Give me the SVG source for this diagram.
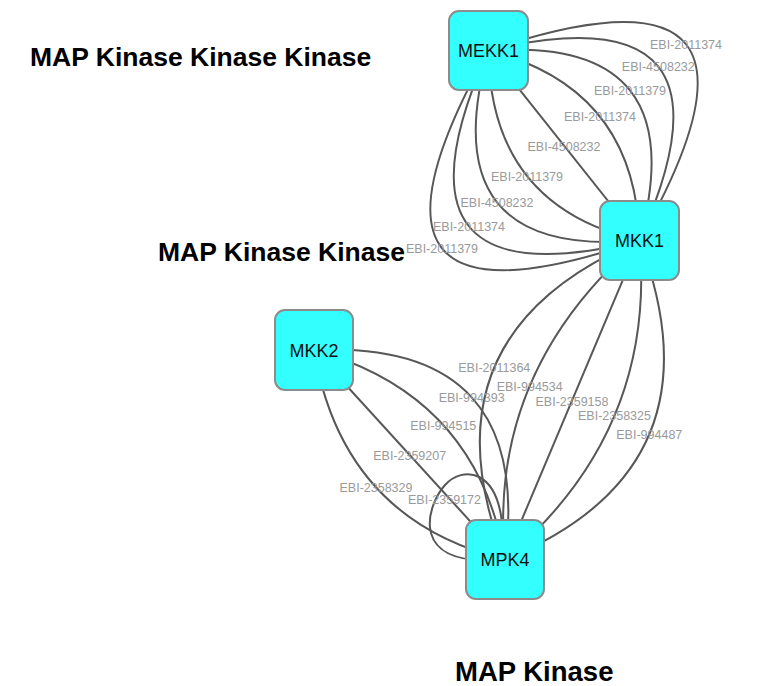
<svg xmlns="http://www.w3.org/2000/svg" width="771" height="686" viewBox="0 0 771 686">
<style>
.edge{fill:none;stroke:#575757;stroke-width:2}
.elabel{font-family:"Liberation Sans",Arial,sans-serif;font-size:12.5px;fill:#9a9a9a;text-anchor:middle}
.node rect{fill:#33ffff;stroke:#8c8c8c;stroke-width:2}
.node text{font-family:"Liberation Sans",Arial,sans-serif;font-size:18px;fill:#111;text-anchor:middle}
.title{font-family:"Liberation Sans",Arial,sans-serif;font-size:26.5px;font-weight:bold;fill:#000}
</style>
<rect width="771" height="686" fill="#fff"/>
<g id="titles">
<text class="title" x="30" y="66">MAP Kinase Kinase Kinase</text>
<text class="title" x="158" y="261">MAP Kinase Kinase</text>
<text class="title" x="455" y="681" style="font-size:27.5px">MAP Kinase</text>
</g>
<g id="connectors">
<path class="edge" d="M488.5,50.5 Q808,-57 639.5,240.5"/>
<path class="edge" d="M488.5,50.5 Q752.6,-12.1 639.5,240.5"/>
<path class="edge" d="M488.5,50.5 Q696,35.1 639.5,240.5"/>
<path class="edge" d="M488.5,50.5 Q636,87.9 639.5,240.5"/>
<path class="edge" d="M488.5,50.5 L639.5,240.5"/>
<path class="edge" d="M488.5,50.5 Q490,206.5 639.5,240.5"/>
<path class="edge" d="M488.5,50.5 Q430,259.1 639.5,240.5"/>
<path class="edge" d="M488.5,50.5 Q373.4,306.5 639.5,240.5"/>
<path class="edge" d="M488.5,50.5 Q320,351.1 639.5,240.5"/>
<path class="edge" d="M639.5,240.5 Q416.35,334.6 505,559.5"/>
<path class="edge" d="M639.5,240.5 Q487.15,372 505,559.5"/>
<path class="edge" d="M639.5,240.5 L505,559.5"/>
<path class="edge" d="M639.5,240.5 Q656.75,431.4 505,559.5"/>
<path class="edge" d="M639.5,240.5 Q726.35,468.6 505,559.5"/>
<path class="edge" d="M314,350 Q533.9,339.85 505,559.5"/>
<path class="edge" d="M314,350 Q477.1,395.25 505,559.5"/>
<path class="edge" d="M314,350 L505,559.5"/>
<path class="edge" d="M314,350 Q342.5,519.85 505,559.5"/>
<path class="edge" d="M503,535 C500,466 462,466 445,485 C428,504 412,555 475,560"/>
</g>
<g id="edge-labels">
<text class="elabel" x="686" y="48.5">EBI-2011374</text>
<text class="elabel" x="658.3" y="71">EBI-4508232</text>
<text class="elabel" x="630" y="94.5">EBI-2011379</text>
<text class="elabel" x="600" y="121">EBI-2011374</text>
<text class="elabel" x="564" y="150.5">EBI-4508232</text>
<text class="elabel" x="527" y="180.5">EBI-2011379</text>
<text class="elabel" x="497" y="206.5">EBI-4508232</text>
<text class="elabel" x="469" y="230.5">EBI-2011374</text>
<text class="elabel" x="442" y="252.5">EBI-2011379</text>
<text class="elabel" x="494.3" y="371.5">EBI-2011364</text>
<text class="elabel" x="529.7" y="390.5">EBI-994534</text>
<text class="elabel" x="572" y="405.5">EBI-2359158</text>
<text class="elabel" x="614.5" y="420">EBI-2358325</text>
<text class="elabel" x="649.3" y="438.5">EBI-994487</text>
<text class="elabel" x="471.7" y="401.5">EBI-994393</text>
<text class="elabel" x="443.3" y="429.5">EBI-994515</text>
<text class="elabel" x="409.7" y="460">EBI-2359207</text>
<text class="elabel" x="376" y="491.5">EBI-2358329</text>
<text class="elabel" x="444.5" y="503.5">EBI-2359172</text>
</g>
<g id="MEKK1" class="node">
<rect x="449" y="11" width="79" height="79" rx="10"/>
<text x="488.5" y="57">MEKK1</text>
</g>
<g id="MKK1" class="node">
<rect x="600" y="201" width="79" height="79" rx="10"/>
<text x="639.5" y="247">MKK1</text>
</g>
<g id="MKK2" class="node">
<rect x="275" y="310" width="78" height="80" rx="10"/>
<text x="314" y="356.5">MKK2</text>
</g>
<g id="MPK4" class="node">
<rect x="466" y="520" width="78" height="79" rx="10"/>
<text x="505" y="566">MPK4</text>
</g>
</svg>
